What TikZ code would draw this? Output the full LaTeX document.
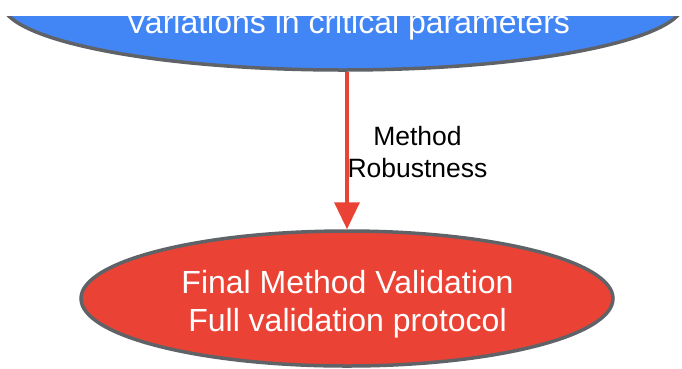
\documentclass[tikz,border=0pt]{standalone}
\usepackage{fontspec}
\setmainfont{Liberation Sans}
\usetikzlibrary{shapes.geometric,arrows.meta}
\definecolor{gblue}{HTML}{4285F4}
\definecolor{gred}{HTML}{EA4335}
\definecolor{ggray}{HTML}{5F6368}
\begin{document}
\begin{tikzpicture}[x=1pt,y=-1pt,
  ell/.style={ellipse, draw=ggray, line width=3.5pt, inner sep=0pt},
  conn/.style={draw=gred, line width=3.5pt, -{Triangle[width=25pt,length=27pt]}},
  lbl/.style={font=\fontsize{26.5}{32}\selectfont, align=center, text=black, inner sep=0pt},
  big/.style={font=\fontsize{32}{38}\selectfont, text=white, align=center, inner sep=0pt}]
\useasboundingbox (0,0) rectangle (682,368);
\begin{scope}
  \clip (0,16) rectangle (682,368);
  \node[ell, fill=gblue, minimum width=682pt, minimum height=135pt] (a) at (343,2.5) {};
\end{scope}
\node[big, anchor=base] (at) at (348,33) {Variations in critical parameters};
\node[ell, fill=gred, minimum width=532pt, minimum height=135pt] (b) at (347,298.5) {};
\node[big, anchor=base] (bt) at (347.5,331.5) {Final Method Validation\\Full validation protocol};
\draw[conn] (a.south -| b.north) -- (b.north);
\node[lbl] (l) at (417.5,152) {Method\\Robustness};
\end{tikzpicture}
\end{document}
